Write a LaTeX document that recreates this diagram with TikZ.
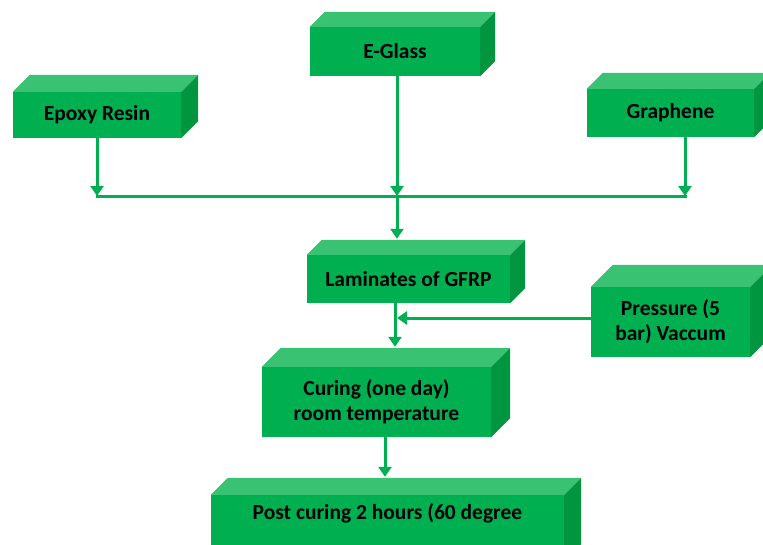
\documentclass[tikz,border=0pt]{standalone}
\usepackage{fontspec}
\setmainfont{Carlito}
\usetikzlibrary{arrows.meta,calc}
\definecolor{gfront}{HTML}{00B050}
\definecolor{gtop}{HTML}{38C271}
\definecolor{gside}{HTML}{00963F}
\tikzset{
  block/.style={fill=gfront, draw=none, inner sep=0pt, align=center,
    font=\fontsize{21.5}{25}\selectfont\bfseries, text=black},
  conn/.style={draw=gfront, line width=3pt, -{Triangle[width=13pt,length=10pt]}},
  plain/.style={draw=gfront, line width=3pt},
}
\newcommand{\cubetop}[2]{%
  \fill[gtop] (#1.north west) -- ++(#2,-#2) -- ($(#1.north east)+(#2,-#2)$) -- (#1.north east) -- cycle;
  \fill[gside] (#1.north east) -- ++(#2,-#2) -- ($(#1.south east)+(#2,-#2)$) -- (#1.south east) -- cycle;
}
\begin{document}
\begin{tikzpicture}[x=1pt,y=-1pt]
\useasboundingbox (0,0) rectangle (763,544);
\clip (0,0) rectangle (763,544);
% boxes
\node[block, minimum width=168, minimum height=46] (ep) at (97,115) {Epoxy Resin};
\cubetop{ep}{17}
\node[block, minimum width=170, minimum height=49] (eg) at (395,51.5) {E-Glass};
\cubetop{eg}{15}
\node[block, minimum width=167, minimum height=48] (gr) at (670.5,113) {Graphene};
\cubetop{gr}{16}
\node[block, minimum width=203, minimum height=48] (lam) at (408.5,279) {Laminates of GFRP};
\cubetop{lam}{15}
\node[block, minimum width=159, minimum height=70] (pr) at (670.5,322) {Pressure (5\\bar) Vaccum};
\cubetop{pr}{22}
\node[block, minimum width=229, minimum height=70] (cu) at (376.5,402) {Curing (one day)\\room temperature};
\cubetop{cu}{19}
\node[block, minimum width=353, minimum height=66] (pc) at (387.5,528) {Post curing 2 hours (60 degree\\\strut};
\cubetop{pc}{17}
% junctions
\coordinate (j1) at (97,196);
\coordinate (jm) at (397,196);
\coordinate (j3) at (685,196);
\coordinate (lamback) at ([yshift=16pt]lam.north);
\coordinate (cuback) at ([yshift=20pt]cu.north);
\coordinate (pcback) at ([yshift=18pt]pc.north);
\coordinate (pj) at (395,318);
% connectors
\draw[conn] (ep.south -| j1) -- (j1);
\draw[conn] (eg.south -| jm) -- (jm);
\draw[conn] (gr.south -| j3) -- (j3);
\draw[plain] ([xshift=-1.5pt]j1) -- ([xshift=1.5pt]j3);
\draw[conn] (jm) -- (lamback -| jm);
\draw[conn] (lam.south -| pj) -- (cuback -| pj);
\draw[conn] (pr.west |- pj) -- ([xshift=2pt]pj);
\draw[conn] (cu.south -| 385,0) -- (pcback -| 385,0);
\end{tikzpicture}
\end{document}
